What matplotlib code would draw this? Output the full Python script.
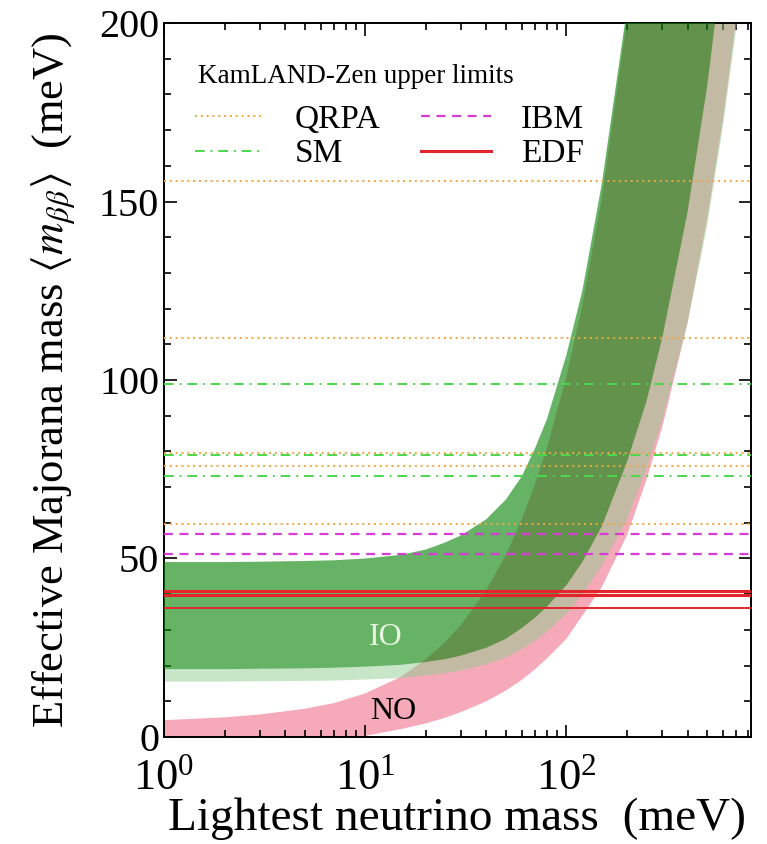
import matplotlib.pyplot as plt
from matplotlib.ticker import MultipleLocator, LogLocator, NullFormatter

plt.rcParams['font.family'] = ['Liberation Serif', 'DejaVu Serif']
plt.rcParams['mathtext.fontset'] = 'stix'

# lightest neutrino mass grid (meV) used for the allowed bands
m_light = [1, 2, 3, 5, 7, 10, 15, 20, 25, 30, 40, 50, 60, 70, 80, 100, 120, 150,
           200, 250, 300, 400, 500, 600, 700, 830]

# inverted ordering, 1 sigma
io1_lo = [19.0, 19.0, 19.1, 19.2, 19.4, 19.7, 20.2, 21.0, 21.8, 22.8, 25.0, 27.5, 30.5, 33.5,
          36.5, 42.5, 49, 59, 77, 94, 112, 147, 182, 218, 254, 300]
io1_hi = [49.0, 49.0, 49.1, 49.3, 49.5, 50.0, 51.0, 52.5, 54.5, 56.5, 61, 66.5, 73, 81,
          89, 107, 125, 155, 204, 253, 303, 402, 502, 602, 702, 832]
# inverted ordering, 3 sigma (lower edge only, the upper edge follows 1 sigma)
io3_lo = [15.5, 15.5, 15.6, 15.7, 15.8, 16.1, 16.5, 17.2, 17.9, 18.6, 20.3, 22.3, 24.6, 27,
          29.5, 34.5, 40, 48, 61, 75, 89, 116, 143, 171, 199, 236]
# normal ordering
no_lo = [0, 0, 0, 0, 0, 0.3, 2.2, 3.8, 5.4, 7.0, 10, 13, 16, 19,
         22, 27.5, 34, 42, 56.5, 72, 87, 116, 145, 173, 201, 239]
no_hi = [4.7, 5.5, 6.3, 7.9, 9.5, 12.2, 16.8, 21.8, 26.6, 31.5, 41.2, 51, 61, 71,
         81, 101, 121, 151, 201, 251, 301, 401, 501, 601, 701, 831]

# KamLAND-Zen limits for the different NME models (meV)
qrpa = [155.8, 111.7, 79.6, 75.9, 59.7]
sm = [98.9, 79.1, 73.0]
ibm = [56.9, 51.2]
edf = [41.0, 39.9, 36.0]

fig = plt.figure(figsize=(7.67, 8.44), dpi=100)
ax = fig.add_axes([0.2138, 0.1268, 0.7652, 0.8459])

ax.fill_between(m_light, no_lo, no_hi, color='#F6A9B9', lw=0, zorder=1)
ax.fill_between(m_light, io3_lo, io1_lo, color=(0.57, 0.80, 0.57), alpha=0.5, lw=0, zorder=2)
ax.fill_between(m_light, io1_lo, io1_hi, color=(0.03, 0.52, 0.03), alpha=0.62, lw=0, zorder=3)

for i, v in enumerate(qrpa):
    ax.axhline(v, color='#F2A640', ls=(0, (1, 2)), lw=1.4, zorder=4,
               label='QRPA' if i == 0 else None)
for i, v in enumerate(sm):
    ax.axhline(v, color='#4CD84C', ls=(0, (5, 3, 1, 3)), lw=1.4, zorder=4,
               label='SM' if i == 0 else None)
for i, v in enumerate(ibm):
    ax.axhline(v, color='#D63CD6', ls=(0, (4, 3)), lw=1.6, zorder=4,
               label='IBM' if i == 0 else None)
for i, v in enumerate(edf):
    ax.axhline(v, color='#E3252B', ls='-', lw=2.2 if i < 2 else 1.4, zorder=4,
               label='EDF' if i == 0 else None)

ax.text(12.6, 28, 'IO', color='#E8F5E0', fontsize=23, ha='center', va='center', zorder=5)
ax.text(13.8, 7, 'NO', color='black', fontsize=23, ha='center', va='center', zorder=5)

ax.set_xscale('log')
ax.set_xlim(1, 826)
ax.set_ylim(0, 200)
ax.yaxis.set_major_locator(MultipleLocator(50))
ax.yaxis.set_minor_locator(MultipleLocator(10))
ax.xaxis.set_minor_locator(LogLocator(base=10, subs=range(2, 10)))
ax.xaxis.set_minor_formatter(NullFormatter())
ax.tick_params(which='both', direction='in', top=True, right=True, width=1.2)
ax.tick_params(which='major', length=9)
ax.tick_params(which='minor', length=5)
ax.tick_params(axis='y', labelsize=29)
ax.tick_params(axis='x', labelsize=32, pad=15)
for s in ax.spines.values():
    s.set_linewidth(1.4)

ax.set_xlabel('Lightest neutrino mass  (meV)', fontsize=34, labelpad=0)
ax.set_ylabel(r'Effective Majorana mass $\langle m_{\beta\beta}\rangle$  (meV)', fontsize=32, labelpad=16)

# legend: title as a separate line, then the four models in two columns
ax.text(0.058, 0.925, 'KamLAND-Zen upper limits', transform=ax.transAxes,
        fontsize=19.5, ha='left', va='center', zorder=6)
h, l = ax.get_legend_handles_labels()
order = [l.index(k) for k in ['QRPA', 'SM', 'IBM', 'EDF']]
leg = ax.legend([h[i] for i in order], [l[i] for i in order], ncol=2, loc='upper left',
                bbox_to_anchor=(0.053, 0.886), fontsize=24, frameon=False,
                handlelength=2.1, handletextpad=0.9, columnspacing=1.2,
                borderaxespad=0.0, borderpad=0.0, labelspacing=0.12)
leg.set_zorder(6)

fig.savefig('out.png', dpi=100)
